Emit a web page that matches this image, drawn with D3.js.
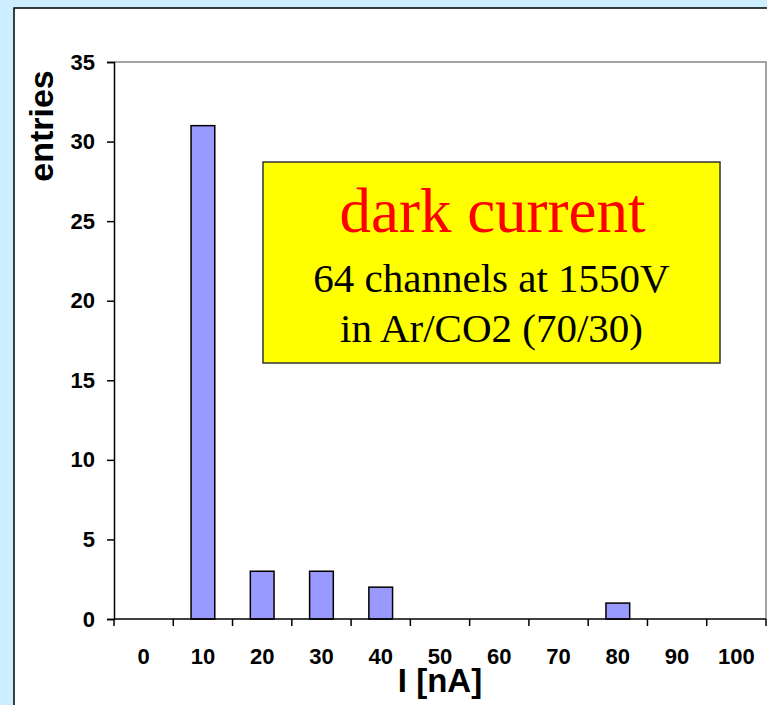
<!DOCTYPE html>
<html>
<head>
<meta charset="utf-8">
<script src="https://cdn.jsdelivr.net/npm/d3@7"></script>
<style>
  body { margin: 0; background: #cceeff; }
  svg { display: block; }
  .tick text { font-family: "Liberation Sans", Arial, sans-serif; font-weight: bold; }
</style>
</head>
<body>
<svg width="767" height="705"></svg>
<script>
// histogram of dark current per channel
var categories = ['0', '10', '20', '30', '40', '50', '60', '70', '80', '90', '100'];
var entries = [0, 31, 3, 3, 2, 0, 0, 0, 1, 0, 0];
var yTicks = [0, 5, 10, 15, 20, 25, 30, 35];
var boxTitle = 'dark current';
var boxLines = ['64 channels at 1550V', 'in Ar/CO2 (70/30)'];

var svg = d3.select('svg');
var svgWidth = +svg.attr('width');
var svgHeight = +svg.attr('height');

// white frame of the slide chart
svg.append('rect')
    .attr('x', 14).attr('y', 8)
    .attr('width', svgWidth).attr('height', svgHeight)
    .attr('fill', '#fff')
    .attr('stroke', '#000')
    .attr('stroke-width', 1.5);

var plot = {l: 114, t: 62, r: 766, b: 619};

var x = d3.scaleBand()
    .domain(categories)
    .range([plot.l, plot.r])
    .paddingInner(0).paddingOuter(0);

var y = d3.scaleLinear()
    .domain([0, 35])
    .range([plot.b, plot.t]);

// gray top/right border of plot area
svg.append('path')
    .attr('d', 'M' + plot.l + ',' + plot.t + 'H' + plot.r + 'V' + plot.b)
    .attr('fill', 'none')
    .attr('stroke', '#888')
    .attr('stroke-width', 1.5);

// bars (empty bins draw nothing)
var barW = x.bandwidth() * 0.4;
var bins = categories.map(function(c, i) { return {c: c, v: entries[i]}; })
    .filter(function(d) { return d.v > 0; });

svg.selectAll('.bar')
    .data(bins)
    .enter()
    .append('rect')
    .attr('class', 'bar')
    .attr('x', function(d) { return x(d.c) + (x.bandwidth() - barW) / 2; })
    .attr('y', function(d) { return y(d.v); })
    .attr('width', barW)
    .attr('height', function(d) { return y(0) - y(d.v); })
    .attr('fill', '#9999ff')
    .attr('stroke', '#000')
    .attr('stroke-width', 1.5);

// y axis
var yAxis = d3.axisLeft(y).tickValues(yTicks).tickSize(7).tickPadding(12);
var yG = svg.append('g')
    .attr('transform', 'translate(' + plot.l + ',0)')
    .call(yAxis);
yG.select('.domain').attr('stroke', '#000').attr('stroke-width', 1.5);
yG.selectAll('.tick line').attr('stroke-width', 1.5);
yG.selectAll('.tick text').attr('font-size', 22).attr('fill', '#000');

// x axis: ticks sit on band edges, labels in band centres
var xG = svg.append('g')
    .attr('transform', 'translate(0,' + plot.b + ')');
xG.append('line')
    .attr('x1', plot.l).attr('x2', plot.r)
    .attr('stroke', '#000').attr('stroke-width', 1.5);
xG.selectAll('.xtick')
    .data(categories.concat(['end']))
    .enter()
    .append('line')
    .attr('class', 'xtick')
    .attr('x1', function(d, i) { return plot.l + i * x.bandwidth(); })
    .attr('x2', function(d, i) { return plot.l + i * x.bandwidth(); })
    .attr('y1', 0).attr('y2', 7)
    .attr('stroke', '#000').attr('stroke-width', 1.5);
xG.selectAll('.xlabel')
    .data(categories)
    .enter()
    .append('text')
    .attr('class', 'xlabel')
    .attr('x', function(d) { return x(d) + x.bandwidth() / 2; })
    .attr('y', 45)
    .attr('text-anchor', 'middle')
    .attr('font-family', '"Liberation Sans", Arial, sans-serif')
    .attr('font-weight', 'bold')
    .attr('font-size', 22)
    .text(function(d) { return d; });

// axis titles
svg.append('text')
    .attr('x', (plot.l + plot.r) / 2)
    .attr('y', 692)
    .attr('text-anchor', 'middle')
    .attr('font-family', '"Liberation Sans", Arial, sans-serif')
    .attr('font-weight', 'bold')
    .attr('font-size', 33)
    .text('I [nA]');

svg.append('text')
    .attr('transform', 'translate(53,126) rotate(-90)')
    .attr('text-anchor', 'middle')
    .attr('font-family', '"Liberation Sans", Arial, sans-serif')
    .attr('font-weight', 'bold')
    .attr('font-size', 34)
    .text('entries');

// yellow annotation box
var box = {x: 263, y: 162, w: 457, h: 201};
svg.append('rect')
    .attr('x', box.x).attr('y', box.y)
    .attr('width', box.w).attr('height', box.h)
    .attr('fill', '#ffff00')
    .attr('stroke', '#333')
    .attr('stroke-width', 1.5);

svg.append('text')
    .attr('x', box.x + box.w / 2 + 1)
    .attr('y', 232)
    .attr('text-anchor', 'middle')
    .attr('font-family', '"Liberation Serif", "Times New Roman", serif')
    .attr('font-size', 63)
    .attr('fill', '#ff0000')
    .text(boxTitle);

svg.selectAll('.boxline')
    .data(boxLines)
    .enter()
    .append('text')
    .attr('class', 'boxline')
    .attr('x', box.x + box.w / 2)
    .attr('y', function(d, i) { return 292 + i * 50; })
    .attr('text-anchor', 'middle')
    .attr('font-family', '"Liberation Serif", "Times New Roman", serif')
    .attr('font-size', 41)
    .attr('fill', '#000')
    .text(function(d) { return d; });
</script>
</body>
</html>
